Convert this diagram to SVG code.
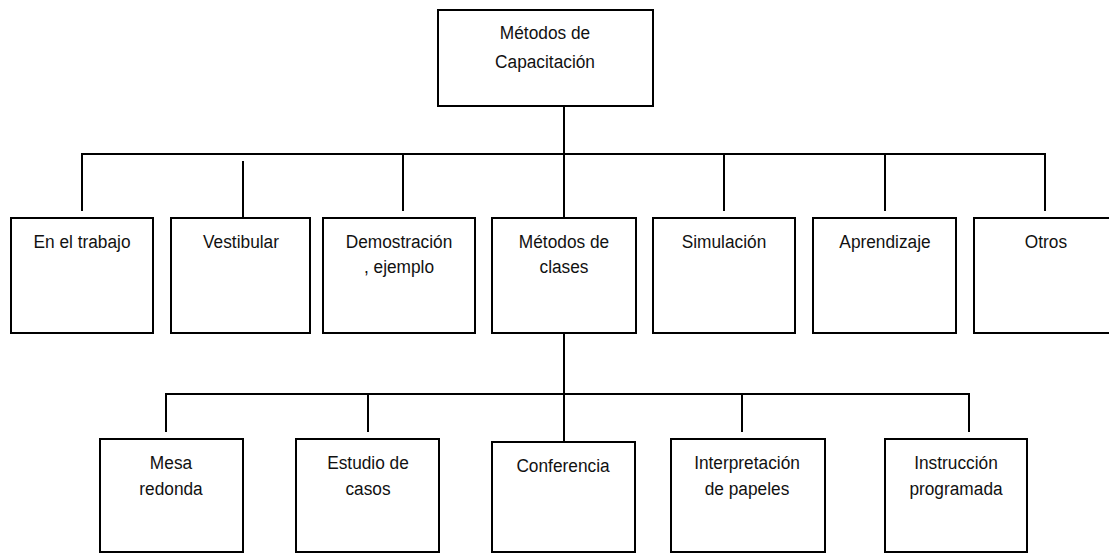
<svg xmlns="http://www.w3.org/2000/svg" width="1109" height="554" viewBox="0 0 1109 554">
<style>
rect{fill:#fff;stroke:#000;stroke-width:2}
line{stroke:#000;stroke-width:2}
text{font-family:"Liberation Sans",Arial,sans-serif;font-size:18.6px;text-anchor:middle;fill:#111}
</style>
<rect x="0" y="0" width="1109" height="554" style="stroke:none"/>
<g id="connectors">
<line x1="564" y1="106" x2="564" y2="159"/>
<line x1="81" y1="154" x2="1046" y2="154"/>
<line x1="82" y1="153" x2="82" y2="211"/>
<line x1="243" y1="161" x2="243" y2="218"/>
<line x1="403" y1="154" x2="403" y2="211"/>
<line x1="564" y1="154" x2="564" y2="218"/>
<line x1="724" y1="154" x2="724" y2="211"/>
<line x1="885" y1="154" x2="885" y2="211"/>
<line x1="1045" y1="153" x2="1045" y2="211"/>
<line x1="564" y1="328" x2="564" y2="442"/>
<line x1="165" y1="394" x2="970" y2="394"/>
<line x1="166" y1="393" x2="166" y2="432"/>
<line x1="368" y1="394" x2="368" y2="432"/>
<line x1="742" y1="394" x2="742" y2="432"/>
<line x1="969" y1="393" x2="969" y2="432"/>
</g>
<g id="root"><rect x="438" y="10" width="215" height="96"/><text transform="translate(545 39) scale(0.93 1)">Métodos de</text><text transform="translate(545 68) scale(0.93 1)">Capacitación</text></g>
<g id="n-trabajo"><rect x="11" y="218" width="142" height="115"/><text transform="translate(82 248) scale(0.93 1)">En el trabajo</text></g>
<g id="n-vestibular"><rect x="171" y="218" width="139" height="115"/><text transform="translate(241 248) scale(0.93 1)">Vestibular</text></g>
<g id="n-demostracion"><rect x="323" y="218" width="152" height="115"/><text transform="translate(399 248) scale(0.93 1)">Demostración</text><text transform="translate(399 273) scale(0.93 1)">, ejemplo</text></g>
<g id="n-clases"><rect x="492" y="218" width="144" height="115"/><text transform="translate(564 248) scale(0.93 1)">Métodos de</text><text transform="translate(564 273) scale(0.93 1)">clases</text></g>
<g id="n-simulacion"><rect x="653" y="218" width="142" height="115"/><text transform="translate(724 248) scale(0.93 1)">Simulación</text></g>
<g id="n-aprendizaje"><rect x="813" y="218" width="143" height="115"/><text transform="translate(885 248) scale(0.93 1)">Aprendizaje</text></g>
<g id="n-otros"><rect x="974" y="218" width="145" height="115"/><text transform="translate(1046 248) scale(0.93 1)">Otros</text></g>
<g id="n-mesa"><rect x="100" y="439" width="143" height="113"/><text transform="translate(171 469) scale(0.93 1)">Mesa</text><text transform="translate(171 495) scale(0.93 1)">redonda</text></g>
<g id="n-estudio"><rect x="296" y="439" width="143" height="113"/><text transform="translate(368 469) scale(0.93 1)">Estudio de</text><text transform="translate(368 495) scale(0.93 1)">casos</text></g>
<g id="n-conferencia"><rect x="492" y="442" width="143" height="110"/><text transform="translate(563 472) scale(0.93 1)">Conferencia</text></g>
<g id="n-interpretacion"><rect x="671" y="439" width="154" height="113"/><text transform="translate(747 469) scale(0.93 1)">Interpretación</text><text transform="translate(747 495) scale(0.93 1)">de papeles</text></g>
<g id="n-instruccion"><rect x="885" y="439" width="142" height="113"/><text transform="translate(956 469) scale(0.93 1)">Instrucción</text><text transform="translate(956 495) scale(0.93 1)">programada</text></g>
</svg>
